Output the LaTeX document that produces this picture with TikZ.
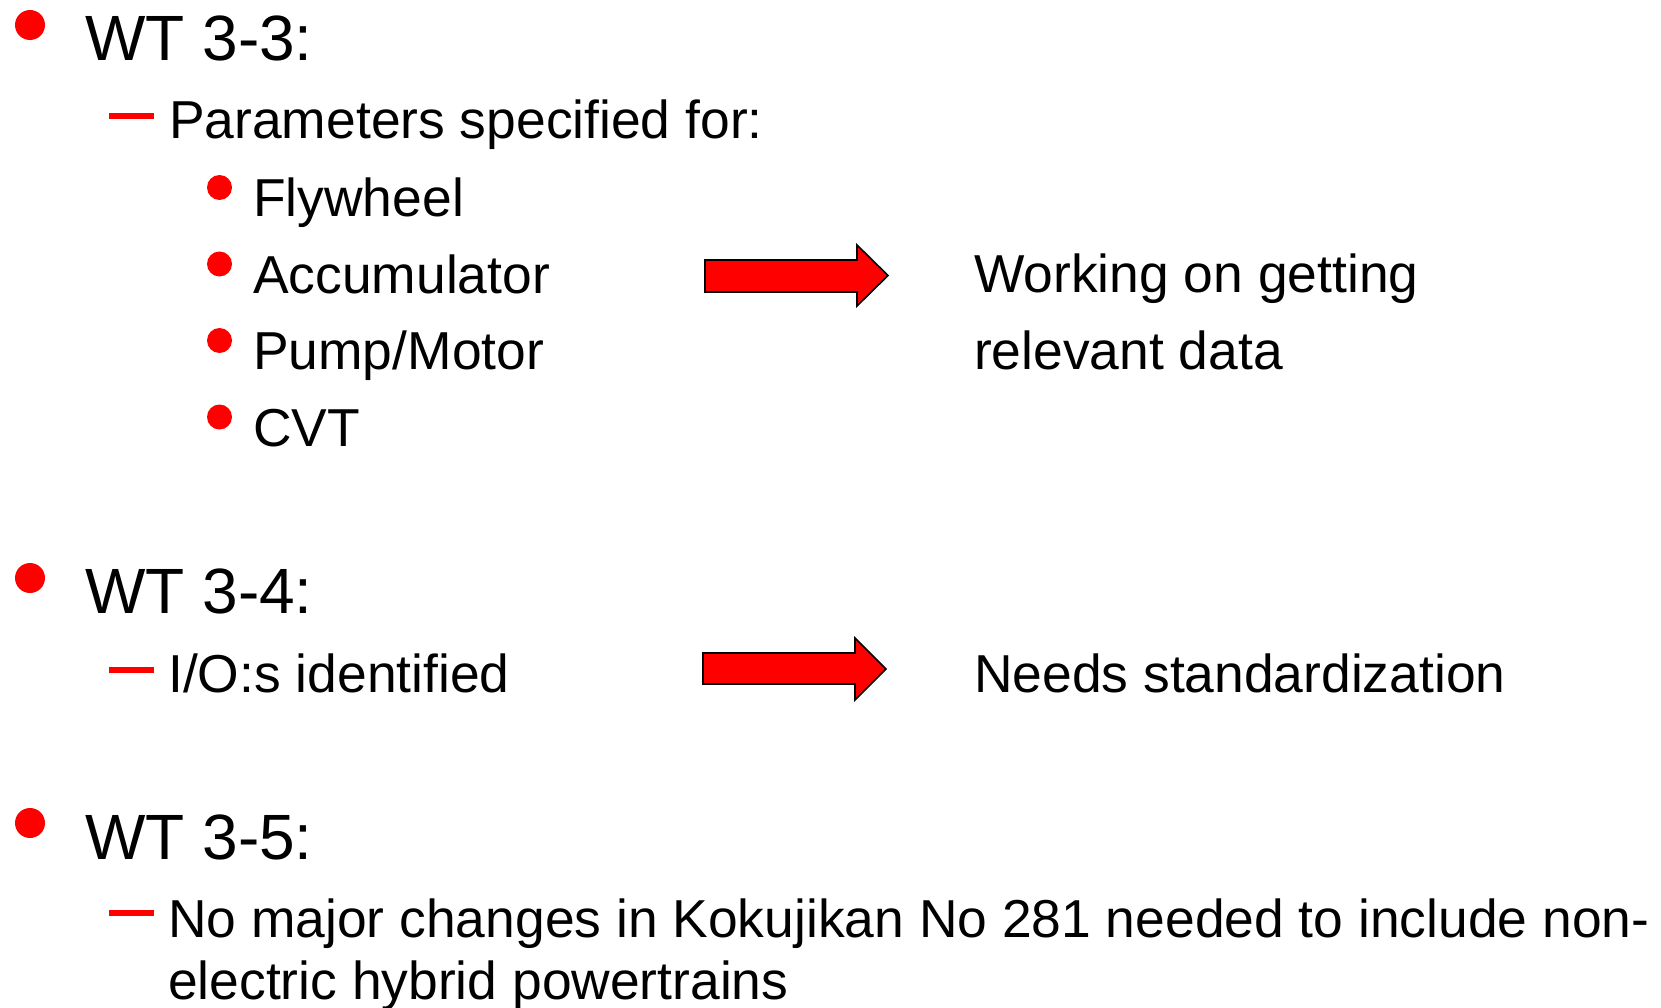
\documentclass[tikz,border=0pt]{standalone}
\usepackage{fontspec}
\setmainfont{Liberation Sans}
\tikzset{
  toptext/.style={anchor=base west, inner sep=0pt, font=\fontsize{64}{77}\selectfont},
  subtext/.style={anchor=base west, inner sep=0pt, font=\fontsize{53.4}{63}\selectfont},
  bigdot/.style={fill=red, draw=none},
  reddash/.style={fill=red, draw=none},
  blockarrow/.style={fill=red, draw=black, line width=1.6pt, line join=miter}
}
\begin{document}
\begin{tikzpicture}[x=1pt, y=-1pt]
                \useasboundingbox (0,0) rectangle (1661,1008);
                \clip (0,0) rectangle (1661,1008);
                % WT 3-3
                \fill[bigdot] (30,25) circle (15);
                \node[toptext] (wt33) at (85,61) {WT 3-3:};
                \fill[reddash] (109,113) rectangle (154,119);
                \node[subtext] (param) at (169,139) {Parameters specified for:};
                \fill[bigdot] (219.5,187.5) circle (12.5);
                \fill[bigdot] (219.5,264) circle (12.5);
                \fill[bigdot] (219.5,340.5) circle (12.5);
                \fill[bigdot] (219.5,417) circle (12.5);
                \node[subtext] (fly) at (253,217) {Flywheel};
                \node[subtext] (acc) at (253,293) {Accumulator};
                \node[subtext] (pump) at (253,369) {Pump/Motor};
                \node[subtext] (cvt) at (253,446) {CVT};
                \filldraw[blockarrow] (705,260) -- (857,260) -- (857,245) -- (888,275.5)
                        -- (857,306) -- (857,292) -- (705,292) -- cycle;
                \node[subtext] (work) at (974,292) {Working on getting};
                \node[subtext] (data) at (974,369) {relevant data};
                % WT 3-4
                \fill[bigdot] (30,578) circle (15);
                \node[toptext] (wt34) at (85,613) {WT 3-4:};
                \fill[reddash] (109,667) rectangle (154,673);
                \node[subtext] (io) at (168,692) {I/O:s identified};
                \filldraw[blockarrow] (703,653) -- (855,653) -- (855,638) -- (886,669)
                        -- (855,700) -- (855,684) -- (703,684) -- cycle;
                \node[subtext] (std) at (974,692) {Needs standardization};
                % WT 3-5
                \fill[bigdot] (30,823) circle (15);
                \node[toptext] (wt35) at (85,859) {WT 3-5:};
                \fill[reddash] (109,910) rectangle (154,916);
                \node[subtext] (kok) at (168,937) {No major changes in Kokujikan No 281 needed to include non-};
                \node[subtext] (kok2) at (168,999) {electric hybrid powertrains};
\end{tikzpicture}
\end{document}
